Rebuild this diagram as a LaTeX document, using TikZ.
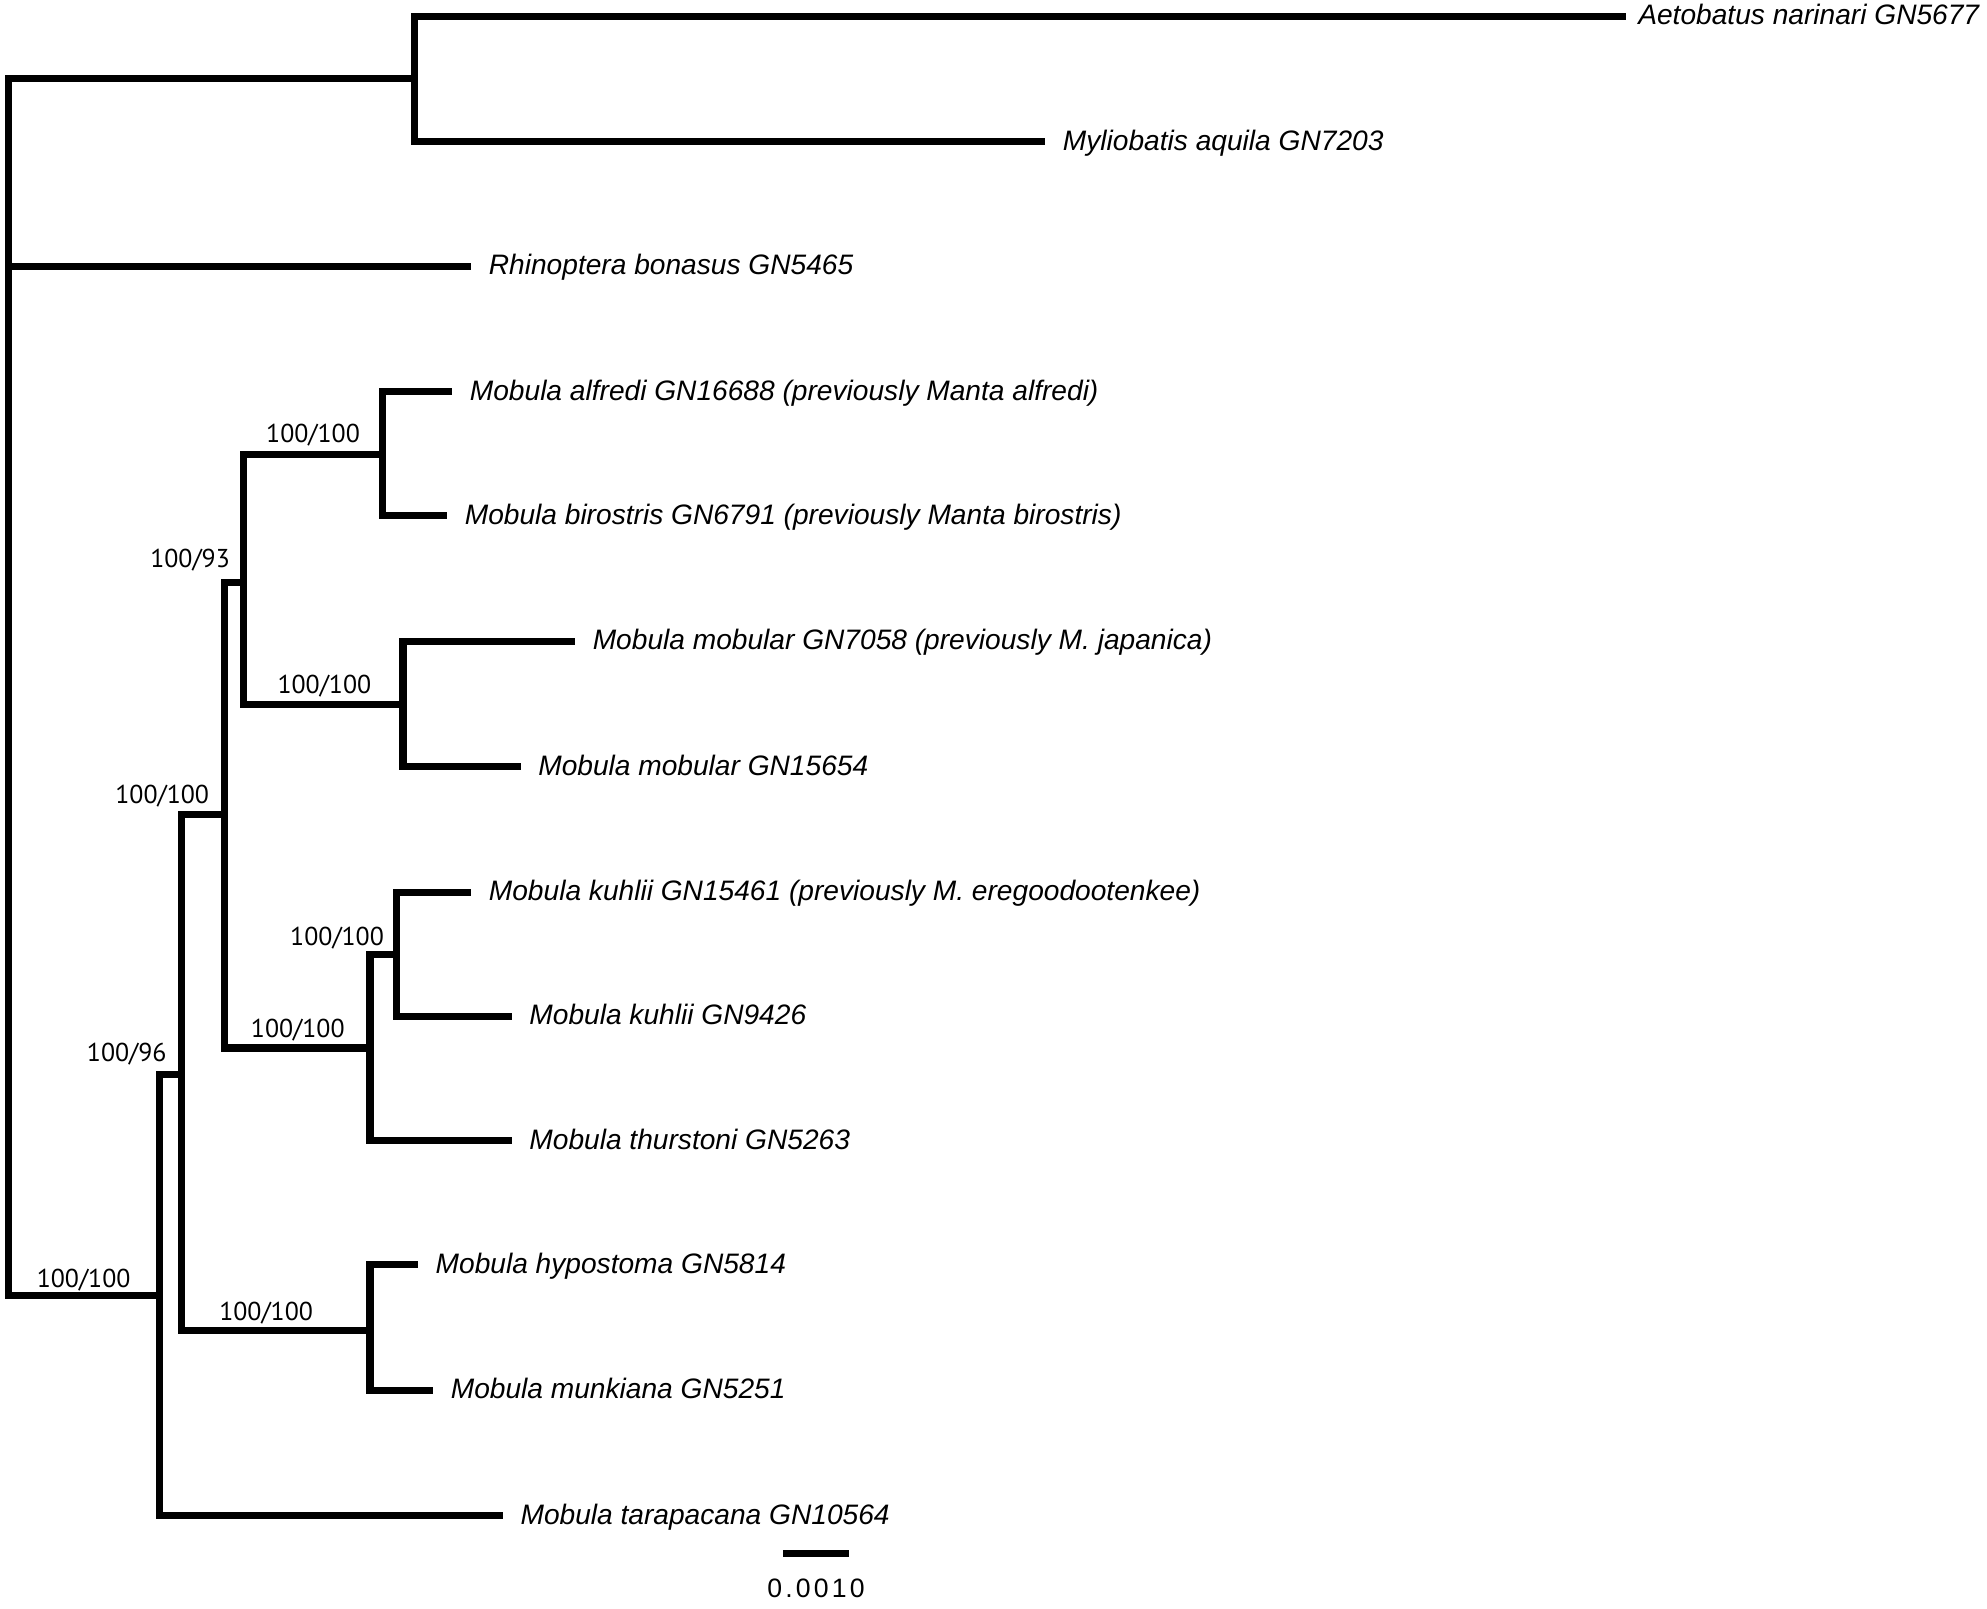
\documentclass[tikz,border=0pt]{standalone}
\usepackage{fontspec}
\setmainfont{Liberation Sans}
\newfontfamily\bootfont{PT Sans}
\usepackage{tikz}

\begin{document}
\begin{tikzpicture}[x=0.5pt, y=-0.5pt, line width=2.8pt, line join=miter,
    leaf/.style={anchor=west, inner xsep=5.5pt, inner ysep=0pt, text height=6.7pt, text depth=0pt,
      font=\itshape\fontsize{11.1}{13}\selectfont},
    boot/.style={anchor=base, inner sep=0pt, font=\bootfont\fontsize{10.2}{12}\selectfont}]
    \useasboundingbox (0,0) rectangle (1568,1269);
    % internal nodes
    \coordinate (R) at (7,542);
    \coordinate (A) at (327,62);
    \coordinate (M) at (126,1022);
    \coordinate (M2) at (143,848);
    \coordinate (M3) at (177,643);
    \coordinate (M4) at (192,460);
    \coordinate (AB) at (302,359);
    \coordinate (MM) at (318,556);
    \coordinate (K) at (292,827);
    \coordinate (K2) at (313,753);
    \coordinate (H) at (292,1050);
    % tips
    \node[leaf, inner xsep=3.5pt] (aet) at (1283,13) {Aetobatus narinari GN5677};
    \node[leaf] (myl) at (825,112) {Myliobatis aquila GN7203};
    \node[leaf] (rhi) at (372,210) {Rhinoptera bonasus GN5465};
    \node[leaf] (alf) at (357,309) {Mobula alfredi GN16688 (previously Manta alfredi)};
    \node[leaf] (bir) at (353,407) {Mobula birostris GN6791 (previously Manta birostris)};
    \node[leaf] (mjap) at (454,506) {Mobula mobular GN7058 (previously M. japanica)};
    \node[leaf] (mmob) at (411,605) {Mobula mobular GN15654};
    \node[leaf] (kuh1) at (372,704) {Mobula kuhlii GN15461 (previously M. eregoodootenkee)};
    \node[leaf] (kuh2) at (404,802) {Mobula kuhlii GN9426};
    \node[leaf] (thu) at (404,900) {Mobula thurstoni GN5263};
    \node[leaf] (hyp) at (330,998) {Mobula hypostoma GN5814};
    \node[leaf] (mun) at (342,1097) {Mobula munkiana GN5251};
    \node[leaf] (tar) at (397,1196) {Mobula tarapacana GN10564};
    % branches
    \draw (R) |- (A);   \draw (R) |- (rhi);  \draw (R) |- (M);
    \draw (A) |- (aet); \draw (A) |- (myl);
    \draw (M) |- (M2);  \draw (M) |- (tar);
    \draw (M2) |- (M3); \draw (M2) |- (H);
    \draw (M3) |- (M4); \draw (M3) |- (K);
    \draw (M4) |- (AB); \draw (M4) |- (MM);
    \draw (AB) |- (alf); \draw (AB) |- (bir);
    \draw (MM) |- (mjap); \draw (MM) |- (mmob);
    \draw (K) |- (K2);  \draw (K) |- (thu);
    \draw (K2) |- (kuh1); \draw (K2) |- (kuh2);
    \draw (H) |- (hyp); \draw (H) |- (mun);
    % support values
    \node[boot] (bM) at (66,1016) {100/100};
    \node[boot] (bM2) at (100,838) {100/96};
    \node[boot] (bM3) at (128,634) {100/100};
    \node[boot] (bM4) at (150,448) {100/93};
    \node[boot] (bAB) at (247,349) {100/100};
    \node[boot] (bMM) at (256,547) {100/100};
    \node[boot] (bK) at (235,819) {100/100};
    \node[boot] (bK2) at (266,746) {100/100};
    \node[boot] (bH) at (210,1042) {100/100};
    % scale bar
    \coordinate (sbl) at (618,1226);
    \coordinate (sbr) at (670,1226);
    \draw (sbl) -- (sbr);
    \node[font=\fontsize{10.5}{12}\selectfont\addfontfeature{LetterSpace=12}] (sbt) at (644,1253) {0.0010};
\end{tikzpicture}
\end{document}
